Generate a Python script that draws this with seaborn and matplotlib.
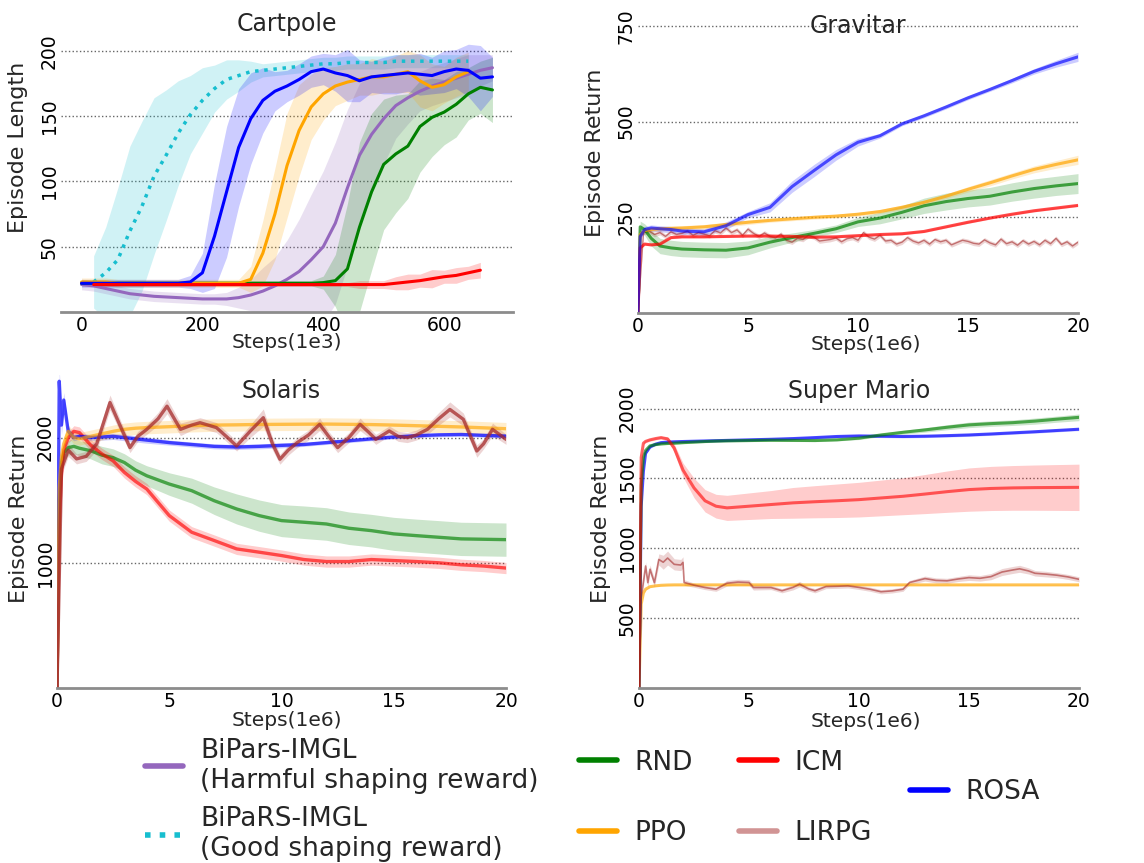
import numpy as np
import pandas as pd
import matplotlib
matplotlib.use("Agg")
import matplotlib.pyplot as plt
from matplotlib.lines import Line2D
import seaborn as sns

nan = np.nan

# ---------------- Cartpole (steps in 1e3) ----------------
CART_X = list(range(0, 700, 20))
CART_ROSA = [22, 22, 22, 22, 22, 22, 22, 22, 22, 23, 30, 58, 92, 126, 148, 162, 169, 173, 178, 184,
             186, 183, 181, 177, 180, 181, 182, 183, 182, 181, 184, 186, 185, 179, 180]
CART_ROSA_W = [3, 3, 3, 3, 3, 3, 3, 3, 3, 5, 15, 40, 50, 45, 35, 25, 15, 12, 12, 12,
               12, 14, 20, 16, 12, 14, 15, 14, 16, 14, 16, 15, 20, 25, 15]
CART_PPO = [23, 23, 23, 22, 22, 22, 22, 22, 22, 22, 22, 22, 22, 22, 25, 45, 75, 112, 139, 157,
            167, 173, 176, 178, 180, 180, 182, 184, 177, 172, 174, 180, 184, nan, nan]
CART_PPO_W = [3, 3, 3, 3, 3, 3, 3, 3, 3, 3, 3, 3, 3, 3, 10, 25, 35, 40, 35, 25,
              20, 15, 14, 12, 14, 12, 14, 16, 20, 18, 14, 15, 15, nan, nan]
CART_HARM = [21, 20, 18, 16, 14, 13, 12, 11.5, 11, 10.5, 10, 10, 10, 11, 13, 16, 20, 25, 31, 40,
             50, 68, 95, 120, 136, 148, 158, 164, 169, 173, 176, 179, 182, 185, 187]
CART_HARM_W = [4, 4, 4, 4, 4, 4, 4, 4, 4, 4, 4, 4, 5, 8, 12, 18, 22, 30, 40, 50,
               58, 62, 60, 55, 45, 35, 25, 20, 15, 15, 15, 15, 15, 12, 10]
CART_RND = [22, 22, 22, 22, 22, 22, 22, 22, 22, 22, 22, 22, 22, 22, 22, 22, 22, 22, 22, 22,
            22.5, 24, 33, 65, 92, 113, 121, 127, 142, 149, 153, 159, 167, 172, 170]
CART_RND_W = [2, 2, 2, 2, 2, 2, 2, 2, 2, 2, 2, 2, 2, 2, 2, 2, 2, 2, 2, 2,
              5, 20, 50, 65, 60, 50, 45, 40, 35, 30, 25, 25, 20, 20, 25]
CART_ICM = [nan, 21, 21, 21, 21, 21, 21, 21, 21, 21, 21, 21, 21, 21, 21, 21, 21, 21, 21, 21,
            21, 21, 21, 21, 21, 21, 22, 23, 24, 25.5, 27, 28, 30, 32, nan]
CART_ICM_W = [nan, 1.5, 1.5, 1.5, 1.5, 1.5, 1.5, 1.5, 1.5, 1.5, 1.5, 1.5, 1.5, 1.5, 1.5, 1.5, 1.5, 1.5, 1.5, 1.5,
              1.5, 1.5, 1.5, 3, 3, 3, 5, 6, 5, 7, 5, 6, 5, 6, nan]
CART_GOOD = [nan, 23, 30, 40, 62, 81, 104, 120, 137, 151, 162, 171, 178, 181, 184, 185, 186, 187, 188, 189,
             190, 190, 191, 191, 191, 191, 192, 192, 192, 192, 192, 192, 192, nan, nan]
CART_GOOD_W = [nan, 20, 35, 55, 65, 65, 60, 50, 40, 30, 25, 18, 15, 12, 8, 5, 5, 5, 5, 5,
               5, 5, 5, 5, 5, 5, 5, 5, 5, 5, 5, 5, 5, nan, nan]

# ---------------- Gravitar (steps in 1e6) ----------------
GRAV_X = [0, 0.1, 0.3, 0.6, 1, 1.5, 2, 3, 4, 5, 6, 7, 8, 9, 10, 11, 12, 13, 14, 15, 16, 17, 18, 19, 20]
GRAV_ROSA = [0, 200, 218, 222, 220, 218, 214, 212, 228, 257, 276, 330, 372, 413, 446, 463, 494, 515, 538,
             562, 584, 607, 631, 651, 669]
GRAV_ROSA_W = [0, 8, 8, 8, 8, 8, 8, 8, 10, 8, 12, 15, 16, 14, 10, 6, 5, 5, 5, 5, 5, 6, 7, 9, 12]
GRAV_PPO = [0, 205, 215, 218, 220, 221, 222, 225, 231, 237, 242, 246, 250, 253, 258, 265, 276, 289, 305,
            323, 340, 358, 375, 388, 400]
GRAV_PPO_W = [0, 6, 6, 6, 6, 6, 6, 6, 6, 6, 5, 5, 5, 5, 5, 5, 6, 6, 6, 7, 8, 8, 9, 10, 12]
GRAV_RND = [0, 225, 218, 195, 175, 170, 167, 165, 164, 170, 185, 197, 208, 220, 238, 248, 263, 280, 291,
            299, 305, 316, 325, 332, 338]
GRAV_RND_W = [0, 15, 15, 20, 20, 20, 20, 20, 20, 18, 15, 12, 10, 10, 12, 15, 17, 20, 22, 22, 23, 24, 25, 25, 26]
GRAV_ICM = [0, 170, 180, 178, 180, 197, 199, 199, 200, 201, 201, 200, 198, 199, 202, 205, 207, 213, 225,
            237, 248, 258, 267, 274, 281]
GRAV_ICM_W = [0, 3, 3, 3, 3, 3, 3, 3, 3, 3, 3, 3, 3, 3, 3, 3, 3, 3, 3, 3, 3, 3, 3, 3, 3]
GRAV_LX = [i * 0.25 for i in range(81)]
GRAV_LIRPG = [0,
              210, 214, 205, 210, 200, 212, 205, 208,
              214, 203, 210, 206, 202, 215, 209, 222,
              210, 217, 203, 219, 208, 200, 209, 200,
              196, 206, 190, 185, 195, 192, 203, 198,
              188, 190, 192, 196, 186, 194, 197, 190,
              210, 198, 193, 203, 188, 190, 180, 185,
              197, 188, 183, 190, 180, 192, 186, 190,
              178, 184, 190, 187, 182, 180, 191, 183,
              178, 193, 181, 186, 177, 189, 180, 187,
              178, 190, 181, 195, 179, 186, 175, 185]
GRAV_LIRPG_W = 6

# ---------------- Solaris ----------------
SOL_X = [0, 0.1, 0.2, 0.3, 0.5, 0.75, 1, 1.5, 2, 2.5, 3, 3.5, 4, 5, 6, 7, 8, 9, 10, 11, 12, 13, 14, 15,
         16, 17, 18, 19, 20]
SOL_ROSA = [0, 2450, 2100, 2300, 2050, 2000, 2010, 2000, 2005, 2010, 2000, 1990, 1980, 1960, 1945, 1930,
            1925, 1930, 1938, 1945, 1960, 1975, 1990, 2005, 2015, 2022, 2025, 2018, 2012]
SOL_ROSA_W = [0, 100, 80, 60, 40, 25, 25, 25, 25, 25, 25, 25, 25, 20, 20, 20, 20, 20, 20, 15, 15, 15, 15,
              15, 15, 15, 15, 15, 15]
SOL_PPO = [0, 1600, 1850, 1950, 2050, 2000, 1990, 2010, 2030, 2050, 2066, 2075, 2080, 2087, 2095, 2100,
           2102, 2105, 2106, 2107, 2108, 2106, 2104, 2100, 2095, 2090, 2085, 2078, 2071]
SOL_PPO_W = [0, 50, 50, 50, 50, 50, 50, 50, 50, 50, 50, 50, 50, 50, 50, 50, 50, 50, 50, 50, 50, 50, 50,
             50, 50, 50, 50, 50, 50]
SOL_RND = [0, 1500, 1800, 1880, 1920, 1930, 1915, 1895, 1860, 1840, 1801, 1740, 1695, 1629, 1576, 1496,
           1430, 1377, 1337, 1324, 1310, 1276, 1257, 1231, 1217, 1204, 1191, 1188, 1185]
SOL_RND_W = [0, 60, 60, 60, 60, 60, 60, 65, 70, 70, 70, 75, 80, 90, 100, 110, 120, 125, 128, 130, 130,
             130, 130, 132, 132, 133, 133, 133, 133]
SOL_ICM = [0, 1300, 1700, 1900, 2000, 2050, 2040, 1940, 1870, 1814, 1722, 1650, 1589, 1377, 1244, 1178,
           1111, 1085, 1058, 1026, 1010, 1010, 1026, 1018, 1010, 1000, 984, 974, 958]
SOL_ICM_W = [0, 45, 45, 45, 45, 45, 45, 45, 45, 45, 45, 45, 45, 45, 45, 45, 45, 45, 45, 45, 45, 45, 45,
             45, 45, 45, 45, 45, 45]
SOL_LX = [0, 0.2, 0.5, 0.87, 1.3, 1.77, 2.36, 2.8, 3.25, 3.6, 4.0, 4.5, 4.9, 5.5, 6.0, 6.37, 7.1, 7.6,
          8.0, 8.6, 9.19, 9.6, 9.93, 10.3, 10.7, 11.2, 11.7, 12.1, 12.5, 13.0, 13.5, 13.9, 14.2, 14.8,
          15.2, 15.6, 16.0, 16.5, 17.0, 17.5, 18.1, 18.7, 19.0, 19.4, 20]
SOL_LIRPG = [0, 1750, 1900, 1830, 1850, 1950, 2280, 2100, 1920, 2010, 2066, 2150, 2251, 2066, 2100, 2119,
             2080, 2000, 1933, 2050, 2159, 1950, 1827, 1900, 1960, 2020, 2106, 2010, 1920, 2000, 2106,
             2040, 1986, 2053, 2010, 2000, 2020, 2066, 2150, 2225, 2146, 1893, 1950, 2066, 1986]
SOL_LIRPG_W = [0, 50, 50, 40, 40, 50, 60, 50, 40, 40, 40, 50, 60, 50, 40, 40, 40, 40, 40, 50, 70, 50, 40,
               40, 40, 40, 50, 40, 40, 40, 50, 40, 40, 40, 40, 40, 40, 40, 50, 60, 50, 50, 40, 50, 40]

# ---------------- Super Mario ----------------
MARIO_X = [0, 0.1, 0.2, 0.3, 0.5, 0.75, 1, 1.3, 1.6, 2, 2.5, 3, 3.5, 4, 5, 6, 7, 8, 9, 10, 11, 12, 13,
           14, 15, 16, 17, 18, 19, 20]
MARIO_ROSA = [0, 1300, 1550, 1680, 1725, 1745, 1756, 1760, 1762, 1764, 1766, 1768, 1770, 1772, 1776, 1780,
              1785, 1792, 1800, 1804, 1802, 1800, 1802, 1806, 1811, 1818, 1826, 1834, 1843, 1852]
MARIO_ROSA_W = [0, 10, 10, 10, 10, 10, 10, 10, 10, 10, 10, 10, 10, 10, 10, 10, 10, 10, 10, 10, 10, 10, 10,
                10, 10, 10, 10, 10, 10, 10]
MARIO_RND = [0, 1450, 1650, 1700, 1733, 1742, 1747, 1750, 1752, 1756, 1760, 1764, 1767, 1769, 1771, 1773,
             1772, 1771, 1776, 1788, 1811, 1830, 1847, 1866, 1883, 1892, 1899, 1910, 1924, 1937]
MARIO_RND_W = [0, 10, 10, 8, 8, 8, 8, 8, 8, 8, 8, 8, 8, 8, 8, 8, 8, 8, 8, 10, 12, 14, 16, 18, 20, 20, 20,
               22, 22, 24]
MARIO_ICM = [0, 1650, 1752, 1765, 1776, 1785, 1792, 1783, 1717, 1560, 1432, 1340, 1301, 1289, 1301, 1313,
             1325, 1333, 1340, 1348, 1360, 1372, 1388, 1405, 1420, 1428, 1432, 1434, 1435, 1436]
MARIO_ICM_W = [0, 10, 10, 10, 10, 10, 10, 12, 30, 50, 70, 80, 85, 90, 95, 100, 110, 115, 120, 124, 128,
               132, 140, 148, 155, 158, 160, 162, 164, 166]
MARIO_PPO = [0, 600, 680, 707, 725, 731, 735, 737, 738, 738, 738, 738, 738, 738, 738, 738, 738, 738, 738,
             738, 738, 738, 738, 738, 738, 738, 738, 738, 738, 738]
MARIO_PPO_W = [0, 5, 5, 5, 5, 5, 5, 5, 5, 5, 5, 5, 5, 5, 5, 5, 5, 5, 5, 5, 5, 5, 5, 5, 5, 5, 5, 5, 5, 5]
MARIO_LX = [0, 0.1, 0.2, 0.3, 0.4, 0.5, 0.7, 0.9, 1.1, 1.3, 1.6, 1.9, 2.0, 2.05, 2.5, 3, 3.5, 4, 4.5, 5,
            5.2, 6, 6.5, 7, 7.3, 7.7, 8, 8.5, 9, 9.5, 10, 10.5, 11, 11.5, 12, 12.3, 13, 13.5, 14, 14.5,
            15, 15.5, 16, 16.5, 17, 17.3, 17.7, 18, 18.5, 19, 19.5, 20]
MARIO_LIRPG = [0, 650, 760, 873, 754, 850, 754, 920, 900, 930, 885, 880, 899, 755, 736, 719, 707, 750, 758,
               755, 719, 719, 696, 720, 743, 710, 696, 726, 728, 731, 720, 707, 689, 695, 707, 755, 783,
               770, 767, 780, 790, 785, 797, 830, 845, 853, 838, 821, 815, 807, 795, 778]
MARIO_LIRPG_W = [0, 30, 30, 30, 30, 30, 30, 40, 50, 50, 40, 40, 40, 20, 15, 15, 15, 20, 20, 20,
                 18, 15, 15, 18, 20, 15, 15, 15, 15, 15, 15, 15, 15, 15, 15, 15, 18, 18, 18, 18,
                 20, 20, 22, 25, 25, 25, 22, 20, 20, 18, 18, 18]

LABEL_HARM = "BiPars-IMGL\n(Harmful shaping reward)"
LABEL_GOOD = "BiPaRS-IMGL\n(Good shaping reward)"
LABEL_RND = "RND"
LABEL_PPO = "PPO"
LABEL_ICM = "ICM"
LABEL_LIRPG = "LIRPG"
LABEL_ROSA = "ROSA"

C_HARM = "#9467bd"
C_GOOD = "#17becf"
C_RND = "green"
C_PPO = "orange"
C_ICM = "red"
C_LIRPG = "brown"
C_ROSA = "blue"

sns.set_theme(style="white")
plt.rcParams["font.family"] = ["DejaVu Sans"]

W, H = 1144, 863
fig = plt.figure(figsize=(W / 100, H / 100), dpi=100)


def px_axes(left, right, top, bottom):
    return fig.add_axes([left / W, 1 - bottom / H, (right - left) / W, (bottom - top) / H])


def band_line(ax, x, m, w, color, lw=2.2, alpha=1.0, ls="-", band_alpha=0.2):
    x = np.asarray(x, float)
    m = np.asarray(m, float)
    w = np.broadcast_to(np.asarray(w, float), m.shape)
    ok = ~np.isnan(m)
    xs, ms, ws = x[ok], m[ok], np.nan_to_num(w[ok])
    df = pd.DataFrame({"x": np.concatenate([xs, xs, xs]),
                       "y": np.concatenate([ms - ws, ms, ms + ws])})
    sns.lineplot(data=df, x="x", y="y", estimator="mean",
                 errorbar=lambda v: (v.min(), v.max()),
                 color=color, lw=lw, alpha=alpha, linestyle=ls,
                 err_kws={"alpha": band_alpha, "linewidth": 0},
                 ax=ax, legend=False)


def style(ax, xticks, yticks, xlim, ylim, title, title_y, xlabel, xl, ylabel, yl):
    ax.set_xlim(*xlim)
    ax.set_ylim(*ylim)
    ax.set_xticks(xticks)
    ax.set_xticklabels([str(t) for t in xticks])
    ax.set_yticks(yticks)
    ax.set_yticklabels([str(t) for t in yticks], rotation=90, va="center")
    ax.grid(False)
    ax.grid(axis="y", linestyle=":", color="#666666", linewidth=1.0)
    for s in ["left", "right", "top"]:
        ax.spines[s].set_visible(False)
    ax.spines["bottom"].set_color("#8c8c8c")
    ax.spines["bottom"].set_linewidth(2.0)
    ax.tick_params(axis="both", length=0, labelsize=13.5, colors="black")
    ax.tick_params(axis="y", pad=1.5)
    ax.tick_params(axis="x", pad=3)
    ax.set_title(title, fontsize=17, y=title_y, pad=0)
    ax.set_xlabel(xlabel, fontsize=14.5)
    ax.xaxis.set_label_coords(*xl)
    ax.set_ylabel(ylabel, fontsize=16)
    ax.yaxis.set_label_coords(*yl)


# Cartpole
ax1 = px_axes(61, 513, 22, 312)
band_line(ax1, CART_X, CART_GOOD, CART_GOOD_W, C_GOOD, lw=2.5, ls=":")
band_line(ax1, CART_X, CART_HARM, CART_HARM_W, C_HARM)
band_line(ax1, CART_X, CART_RND, CART_RND_W, C_RND)
band_line(ax1, CART_X, CART_PPO, CART_PPO_W, C_PPO)
band_line(ax1, CART_X, CART_ROSA, CART_ROSA_W, C_ROSA)
band_line(ax1, CART_X, CART_ICM, CART_ICM_W, C_ICM)
style(ax1, [0, 200, 400, 600], [50, 100, 150, 200], (-34, 714), (0, 222),
      "Cartpole", 0.969, "Steps(1e3)", (0.5, -0.074), "Episode Length", (-0.073, 0.566))

# Gravitar
ax2 = px_axes(638, 1078, 22, 313)
band_line(ax2, GRAV_LX, GRAV_LIRPG, GRAV_LIRPG_W, C_LIRPG, lw=1.0, alpha=0.6)
band_line(ax2, GRAV_X, GRAV_RND, GRAV_RND_W, C_RND, alpha=0.7)
band_line(ax2, GRAV_X, GRAV_PPO, GRAV_PPO_W, C_PPO, alpha=0.7)
band_line(ax2, GRAV_X, GRAV_ICM, GRAV_ICM_W, C_ICM, alpha=0.7)
band_line(ax2, GRAV_X, GRAV_ROSA, GRAV_ROSA_W, C_ROSA, alpha=0.65)
style(ax2, [0, 5, 10, 15, 20], [250, 500, 750], (0, 20), (0, 760),
      "Gravitar", 0.962, "Steps(1e6)", (0.518, -0.077), "Episode Return", (-0.075, 0.55))

# Solaris
ax3 = px_axes(57, 506, 375, 688)
band_line(ax3, SOL_X, SOL_RND, SOL_RND_W, C_RND, lw=2.4, alpha=0.65)
band_line(ax3, SOL_X, SOL_ICM, SOL_ICM_W, C_ICM, lw=2.4, alpha=0.65)
band_line(ax3, SOL_X, SOL_ROSA, SOL_ROSA_W, C_ROSA, lw=2.4, alpha=0.7)
band_line(ax3, SOL_X, SOL_PPO, SOL_PPO_W, C_PPO, lw=2.4, alpha=0.65)
band_line(ax3, SOL_LX, SOL_LIRPG, SOL_LIRPG_W, C_LIRPG, lw=2.4, alpha=0.75)
style(ax3, [0, 5, 10, 15, 20], [1000, 2000], (0, 20), (0, 2500),
      "Solaris", 0.926, "Steps(1e6)", (0.512, -0.073), "Episode Return", (-0.062, 0.54))

# Super Mario
ax4 = px_axes(639, 1079, 375, 688)
band_line(ax4, MARIO_X, MARIO_PPO, MARIO_PPO_W, C_PPO, lw=2.2, alpha=0.65)
band_line(ax4, MARIO_LX, MARIO_LIRPG, MARIO_LIRPG_W, C_LIRPG, lw=1.2, alpha=0.6)
band_line(ax4, MARIO_X, MARIO_ROSA, MARIO_ROSA_W, C_ROSA, lw=2.2, alpha=0.7)
band_line(ax4, MARIO_X, MARIO_RND, MARIO_RND_W, C_RND, lw=2.2, alpha=0.65)
band_line(ax4, MARIO_X, MARIO_ICM, MARIO_ICM_W, C_ICM, lw=2.2, alpha=0.6)
style(ax4, [0, 5, 10, 15, 20], [500, 1000, 1500, 2000], (0, 20), (0, 2240),
      "Super Mario", 0.926, "Steps(1e6)", (0.516, -0.078), "Episode Return", (-0.064, 0.54))


# Legend: one block per column so that rows line up like the reference
def col_legend(handles, labels, x_px, y_px, spacing):
    fig.legend(handles, labels, loc="center left", bbox_to_anchor=(x_px / W, 1 - y_px / H),
               ncol=1, frameon=False, fontsize=19, handlelength=1.45, handletextpad=0.65,
               borderpad=0, borderaxespad=0, labelspacing=spacing)


col_legend([Line2D([], [], color=C_HARM, lw=4), Line2D([], [], color=C_GOOD, lw=4, ls=":")],
           [LABEL_HARM, LABEL_GOOD], 145, 800, 0.48)
col_legend([Line2D([], [], color=C_RND, lw=4), Line2D([], [], color=C_PPO, lw=4)],
           [LABEL_RND, LABEL_PPO], 579, 798, 1.7)
col_legend([Line2D([], [], color=C_ICM, lw=4), Line2D([], [], color=C_LIRPG, lw=4, alpha=0.5)],
           [LABEL_ICM, LABEL_LIRPG], 739, 798, 1.7)
col_legend([Line2D([], [], color=C_ROSA, lw=4)], [LABEL_ROSA], 910, 792, 0.5)

fig.savefig("out.png", dpi=100)
